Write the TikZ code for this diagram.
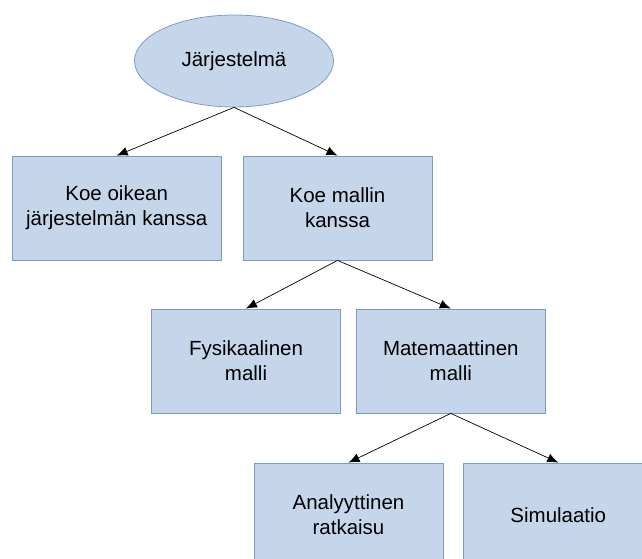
\documentclass[tikz,border=0pt]{standalone}
\usepackage{fontspec}
\setmainfont{Liberation Sans}
\usetikzlibrary{positioning,shapes.geometric,arrows.meta}
\definecolor{boxfill}{HTML}{C5D6EA}
\definecolor{boxline}{HTML}{7B9ACC}
\begin{document}
\begin{tikzpicture}[x=1pt,y=1pt,
    every node/.style={font=\fontsize{20.5}{25}\selectfont, align=center},
    tree/.style={draw=boxline, fill=boxfill, line width=0.8pt},
    leaf/.style={tree, rectangle, minimum width=189pt, minimum height=104pt, inner sep=2pt},
    link/.style={-{Latex[length=11pt,width=9pt]}, line width=0.7pt}]
    \useasboundingbox (0,0) rectangle (642,-559);
    \clip (0,0) rectangle (642,-559);
    \node[tree, ellipse, minimum width=199pt, minimum height=92pt, inner sep=0pt] (sys) at (234,-61) {Järjestelmä};
    \node[leaf] (mallin) at (337.5,-208) {Koe mallin\\kanssa};
    \node[leaf, minimum width=209pt, left=21pt of mallin] (oikea) {Koe oikean\\järjestelmän kanssa};
    \node[leaf] (fys) at (246,-361) {Fysikaalinen\\malli};
    \node[leaf, right=15pt of fys] (mat) {Matemaattinen\\malli};
    \node[leaf] (anal) at (348.5,-515) {Analyyttinen\\ratkaisu};
    \node[leaf, right=20pt of anal] (sim) {Simulaatio};
    \draw[link] (sys.south) -- (oikea.north);
    \draw[link] (sys.south) -- (mallin.north);
    \draw[link] (mallin.south) -- (fys.north);
    \draw[link] (mallin.south) -- (mat.north);
    \draw[link] (mat.south) -- (anal.north);
    \draw[link] (mat.south) -- (sim.north);
\end{tikzpicture}
\end{document}
